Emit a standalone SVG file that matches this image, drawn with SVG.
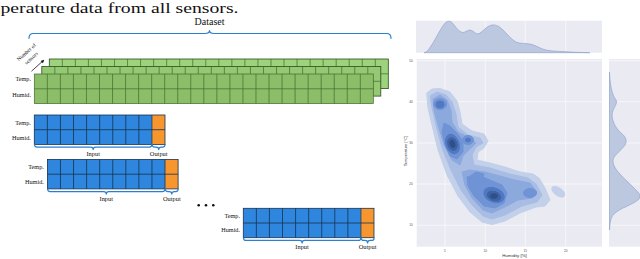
<svg xmlns="http://www.w3.org/2000/svg" xmlns:xlink="http://www.w3.org/1999/xlink" width="640" height="259" viewBox="0 0 640 259">
<style>
.serif{font-family:"Liberation Serif","DejaVu Serif",serif;fill:#111}
.lab{font-size:6.2px;text-anchor:end}
.blab{font-size:6.4px;text-anchor:middle}
.gl{fill:none;stroke:#3f6b2c;stroke-width:0.7}
.bl{fill:none;stroke:#17324f;stroke-width:0.8}
.brace{fill:none;stroke:#2a7fd0;stroke-width:1.2;stroke-linecap:round;stroke-linejoin:round}
.tick{font-family:"Liberation Sans","DejaVu Sans",sans-serif;font-size:3.2px;fill:#555;text-anchor:middle}
.grid{stroke:#ffffff;stroke-width:0.6}
.k1{fill:#c3d0ea;stroke:#c3d0ea}
.k2{fill:#a9bde4;stroke:#a9bde4}
.k3{fill:#8ca9de;stroke:#8ca9de}
.k4{fill:#6f93d5;stroke:#6f93d5}
.k5{fill:#5079c2;stroke:#5079c2}
.k6{fill:#3d63a5;stroke:#3d63a5}
.k7{fill:#304f86;stroke:#304f86}
.kde polygon,.kde ellipse{stroke-width:1;stroke-linejoin:round}
</style>
<defs>
<path id="gcols" d="M13.04 0V29.6M26.08 0V29.6M39.12 0V29.6M52.16 0V29.6M65.2 0V29.6M78.24 0V29.6M91.28 0V29.6M104.32 0V29.6M117.36 0V29.6M130.4 0V29.6M143.44 0V29.6M156.48 0V29.6M169.52 0V29.6M182.56 0V29.6M195.6 0V29.6M208.64 0V29.6M221.68 0V29.6M234.72 0V29.6M247.76 0V29.6M260.8 0V29.6M273.84 0V29.6M286.88 0V29.6M299.92 0V29.6M312.96 0V29.6M326 0V29.6M0 14.8H339"/>
<g id="bgrid">
<rect x="0" y="0" width="117.6" height="29.4" fill="#2e86de"/>
<rect x="117.6" y="0" width="13.1" height="29.4" fill="#f7962e"/>
<path class="bl" d="M13.07 0V29.4M26.14 0V29.4M39.21 0V29.4M52.28 0V29.4M65.35 0V29.4M78.42 0V29.4M91.49 0V29.4M104.56 0V29.4M117.6 0V29.4M0 14.7H130.7"/>
<rect x="0" y="0" width="130.7" height="29.4" class="bl"/>
</g>
</defs>
<rect width="640" height="259" fill="#ffffff"/>

<text class="serif" x="0.5" y="13" font-size="14" textLength="238" lengthAdjust="spacingAndGlyphs">perature data from all sensors.</text>

<g id="dataset-label"><text class="serif" x="209.5" y="25.3" font-size="10" text-anchor="middle">Dataset</text></g>

<g id="sensors-label">
<text class="serif" font-size="5.4" text-anchor="middle" transform="translate(27.5,53.5) rotate(-42)">Number of</text>
<text class="serif" font-size="5.4" text-anchor="middle" transform="translate(32.5,59.5) rotate(-42)">sensors</text>
</g>

<g id="dataset-layers">
<g id="layer-back">
<rect x="49.3" y="59" width="339" height="29.6" fill="#9dd37c" stroke="#2f4a22" stroke-width="0.8"/>
<use xlink:href="#gcols" href="#gcols" class="gl" transform="translate(49.3,59)"/>
</g>
<g id="layer-middle">
<rect x="41.8" y="66.5" width="339" height="29.6" fill="#94c873" stroke="#2f4a22" stroke-width="0.8"/>
<use xlink:href="#gcols" href="#gcols" class="gl" transform="translate(41.8,66.5)"/>
</g>
<g id="layer-front">
<rect x="34.3" y="74" width="339" height="29.6" fill="#8cbe69" stroke="#3f6b2c" stroke-width="0.7"/>
<use xlink:href="#gcols" href="#gcols" class="gl" transform="translate(34.3,74)"/>
</g>
<text class="serif lab" x="31" y="81.2">Temp.</text>
<text class="serif lab" x="31" y="97">Humid.</text>
</g>

<g id="window-1">
<use xlink:href="#bgrid" href="#bgrid" transform="translate(34.3,115)"/>
<text class="serif lab" x="30.8" y="124.6">Temp.</text>
<text class="serif lab" x="30.8" y="139.6">Humid.</text>
<text class="serif blab" x="93.2" y="156.3">Input</text>
<text class="serif blab" x="158.7" y="156.3">Output</text>
</g>

<g id="window-2">
<use xlink:href="#bgrid" href="#bgrid" transform="translate(47.4,159.5)"/>
<text class="serif lab" x="43.8" y="168.9">Temp.</text>
<text class="serif lab" x="43.8" y="184">Humid.</text>
<text class="serif blab" x="106.3" y="201">Input</text>
<text class="serif blab" x="171.8" y="201">Output</text>
</g>

<g id="ellipsis">
<circle cx="198.7" cy="205.3" r="1.3" fill="#111"/>
<circle cx="206" cy="205.3" r="1.3" fill="#111"/>
<circle cx="213.3" cy="205.3" r="1.3" fill="#111"/>
</g>

<g id="window-n">
<use xlink:href="#bgrid" href="#bgrid" transform="translate(243.3,208.3)"/>
<text class="serif lab" x="240" y="217.6">Temp.</text>
<text class="serif lab" x="240" y="232.4">Humid.</text>
<text class="serif blab" x="302.1" y="249">Input</text>
<text class="serif blab" x="367.6" y="249">Output</text>
</g>

<g id="connectors">
<path class="brace" d="M29 38.3Q29 33.5 33.5 33.5L205 33.5Q209.5 33.5 209.5 30.5Q209.5 33.5 214 33.5L386.5 33.5Q391 33.5 391 38.3"/>
<path class="brace" d="M34.5 144.6Q34.5 147.1 37 147.1L90.7 147.1Q93.2 147.1 93.2 149.6Q93.2 147.1 95.7 147.1L149.4 147.1Q151.9 147.1 151.9 144.6"/>
<path class="brace" d="M152.2 144.6Q152.2 147.1 154.7 147.1L156.2 147.1Q158.7 147.1 158.7 149.6Q158.7 147.1 161.2 147.1L162.6 147.1Q165.1 147.1 165.1 144.6"/>
<path class="brace" d="M47.6 189.1Q47.6 191.6 50.1 191.6L103.8 191.6Q106.3 191.6 106.3 194.1Q106.3 191.6 108.8 191.6L162.5 191.6Q165 191.6 165 189.1"/>
<path class="brace" d="M165.3 189.1Q165.3 191.6 167.8 191.6L169.3 191.6Q171.8 191.6 171.8 194.1Q171.8 191.6 174.3 191.6L175.7 191.6Q178.2 191.6 178.2 189.1"/>
<path class="brace" d="M243.5 237.9Q243.5 240.4 246 240.4L299.6 240.4Q302.1 240.4 302.1 242.9Q302.1 240.4 304.6 240.4L358.4 240.4Q360.9 240.4 360.9 237.9"/>
<path class="brace" d="M361.2 237.9Q361.2 240.4 363.7 240.4L365.1 240.4Q367.6 240.4 367.6 242.9Q367.6 240.4 370.1 240.4L371.6 240.4Q374.1 240.4 374.1 237.9"/>
<path d="M31.5 71.2L42.6 61.2" stroke="#111" stroke-width="0.8" fill="none"/>
<path d="M44.3 59.7L40.6 60.9L42.9 63.3Z" fill="#111"/>
</g>

<g id="jointplot">
<g id="marginal-top">
<rect x="416" y="20.7" width="186" height="32" fill="#eaeaf2"/>
<path class="grid" d="M445 20.7V52.7M485.3 20.7V52.7M525.3 20.7V52.7M565.7 20.7V52.7"/>
<path d="M424 52.7C428 52 430 47 433 43C437 36 441 28 445 23C447 21 450 20.5 452 22.5C455 26 458 31 462 32.5C465 33 467 30 470 30C473 30 475 34 478 34C482 33 486 26 492 25C497 24.5 500 27 503 30C507 34 511 39 516 42C520 44 527 43 532 44.5C537 46 541 49 546 50C553 51.5 565 51.5 575 52.3L590 52.7Z" fill="#bcc7e0" stroke="#8c9dc9" stroke-width="0.6"/>
</g>
<g id="marginal-right">
<rect x="609" y="59" width="31" height="187.7" fill="#eaeaf2"/>
<path class="grid" d="M609 60.7H640M609 101.7H640M609 143H640M609 184H640M609 225.3H640"/>
<path d="M609.5 72C610 85 612 95 616 100C618 103 614 107 612.5 112C611 118 614 126 620 132C625 136 628 140 625 145C620 152 612 156 613 162C614 170 624 178 632 186C638 192 643 196 638 200C632 205 620 208 614 214C610 218 610 224 609.5 230Z" fill="#bcc7e0" stroke="#8c9dc9" stroke-width="0.6"/>
</g>
<g id="main-plot">
<rect x="416.7" y="59" width="185.3" height="187.7" fill="#eaeaf2"/>
<path class="grid" d="M445 59V246.7M485.3 59V246.7M525.3 59V246.7M565.7 59V246.7M416.7 60.7H602M416.7 101.7H602M416.7 143H602M416.7 184H602M416.7 225.3H602"/>
<g class="kde">
<polygon class="k1" points="426.7,93 432,89 440,88.5 450,92 457,101 460,112 462,124 472,131 484,134 488,141 484,148 478,152 477,160 490,163 505,167 520,172 533,174 539,178 545,188 550,200 545,206 536,207 520,213 505,221 492,224.5 482,222 470,212 458,196 447,175 438,150 432,125 428,108"/>
<ellipse class="k1" cx="558.3" cy="191.7" rx="7.5" ry="3.8" transform="rotate(35 558.3 191.7)"/>
<polygon class="k2" points="430,96 437,92 446,95 452,102 456,114 458,127 468,135 480,138 483,143 476,147 472,155 474,165 490,168 510,174 528,178 536,184 542,195 537,202 522,206 505,215 492,219 483,216 472,205 461,190 451,170 442,148 436,125 432,108"/>
<polygon class="k3" points="433,99 440,95 447,100 451,110 452,122 458,132 470,138 476,143 470,149 463,156 460,165 452,160 444,145 438,125 434,110"/>
<polygon class="k3" points="462,172 470,170 485,172 500,176 515,180 530,183 537,192 532,198 518,200 505,207 492,213 483,210 472,198 465,185"/>
<ellipse class="k4" cx="440" cy="104" rx="6.5" ry="5.5"/>
<polygon class="k4" points="444,123 450,126 457,133 463,141 463,152 457,159 450,156 445,145 442,132"/>
<ellipse class="k4" cx="468" cy="140" rx="5.5" ry="4.5"/>
<polygon class="k4" points="467,177 478,175 490,180 502,185 507,193 504,203 495,208 484,206 474,196 468,186"/>
<ellipse class="k4" cx="530" cy="193" rx="6.5" ry="4.5"/>
<polygon class="k4" points="470,176 476,172 484,174 482,180 474,181"/>
<ellipse class="k5" cx="440" cy="104.5" rx="4" ry="3.5"/>
<ellipse class="k5" cx="452.5" cy="144" rx="6.5" ry="10" transform="rotate(-20 452.5 144)"/>
<ellipse class="k5" cx="494" cy="195" rx="10.5" ry="7" transform="rotate(20 494 195)"/>
<ellipse class="k5" cx="468" cy="140" rx="2.5" ry="2"/>
<ellipse class="k6" cx="452.5" cy="144" rx="4.5" ry="6.5" transform="rotate(-20 452.5 144)"/>
<ellipse class="k6" cx="494" cy="196" rx="7" ry="4.5" transform="rotate(20 494 196)"/>
<ellipse class="k7" cx="452.5" cy="144" rx="2.2" ry="3.5" transform="rotate(-20 452.5 144)"/>
<ellipse class="k7" cx="494" cy="196" rx="3.5" ry="2.3"/>
</g>
<text class="tick" x="411" y="61.8">50</text>
<text class="tick" x="411" y="102.8">40</text>
<text class="tick" x="411" y="144.1">30</text>
<text class="tick" x="411" y="185.1">20</text>
<text class="tick" x="411" y="226.4">10</text>
<text class="tick" x="445" y="251.5">5</text>
<text class="tick" x="485.3" y="251.5">10</text>
<text class="tick" x="525.3" y="251.5">15</text>
<text class="tick" x="565.7" y="251.5">20</text>
<text font-family="Liberation Sans, DejaVu Sans, sans-serif" font-size="4" fill="#333" text-anchor="middle" transform="translate(406.8,151) rotate(-90)">Temperature [°C]</text>
<text font-family="Liberation Sans, DejaVu Sans, sans-serif" font-size="4.4" fill="#333" text-anchor="middle" x="514.5" y="257.3">Humidity [%]</text>
</g>
</g>
</svg>
